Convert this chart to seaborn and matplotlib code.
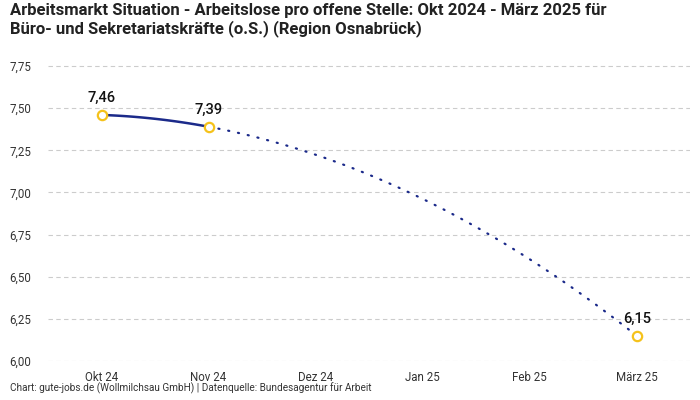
import numpy as np
import pandas as pd
import seaborn as sns
import matplotlib
matplotlib.use("Agg")
import matplotlib.pyplot as plt
from matplotlib.ticker import FuncFormatter

months = ["Okt 24", "Nov 24", "Dez 24", "Jan 25", "Feb 25", "März 25"]
known_months = ["Okt 24", "Nov 24", "März 25"]
known_values = [7.46, 7.39, 6.15]
y_ticks = [6.00, 6.25, 6.50, 6.75, 7.00, 7.25, 7.50, 7.75]

title = ("Arbeitsmarkt Situation - Arbeitslose pro offene Stelle: Okt 2024 - März 2025 für\n"
         "Büro- und Sekretariatskräfte (o.S.) (Region Osnabrück)")
footer = "Chart: gute-jobs.de (Wollmilchsau GmbH) | Datenquelle: Bundesagentur für Arbeit"

sns.set_theme(style="white")
plt.rcParams["font.family"] = ["Roboto", "DejaVu Sans"]

line_color = "#1b2a8a"
marker_color = "#f5c21b"

fig = plt.figure(figsize=(7, 4), dpi=100)
ax = fig.add_axes([0.0686, 0.0975, 0.9174, 0.75])

xpos = [months.index(m) for m in known_months]
df = pd.DataFrame({"x": xpos, "y": known_values, "month": known_months})

# smooth curve through the known points (rendering of the connecting line)
coef = np.polyfit(df["x"], df["y"], 2)
xs1 = np.linspace(xpos[0], xpos[1], 50)
xs2 = np.linspace(xpos[1], xpos[2], 200)
sns.lineplot(x=xs1, y=np.polyval(coef, xs1), ax=ax, color=line_color, lw=1.8)
ax.plot(xs2, np.polyval(coef, xs2), color=line_color, lw=1.6,
        linestyle=(0, (0.5, 4.0)), dash_capstyle="round")

sns.scatterplot(data=df, x="x", y="y", ax=ax, s=45, facecolor="white",
                edgecolor=marker_color, linewidth=1.6, zorder=5)

for xv, yv in zip(df["x"], df["y"]):
    ax.annotate(f"{yv:.2f}".replace(".", ","), (xv, yv), xytext=(0, 7),
                textcoords="offset points", ha="center", va="bottom",
                fontsize=10.5, fontweight="medium", color="#111111")

ax.set_xlim(-0.5, 5.5)
ax.set_ylim(6.0, 7.78)
ax.set_xticks(range(len(months)))
ax.set_xticklabels(months)
ax.set_yticks(y_ticks)
ax.yaxis.set_major_formatter(FuncFormatter(lambda v, p: f"{v:.2f}".replace(".", ",")))
ax.tick_params(axis="both", length=0, labelsize=8.3, labelcolor="#333333")
ax.tick_params(axis="y", pad=12)
ax.tick_params(axis="x", pad=7)
ax.set_xlabel("")
ax.set_ylabel("")
ax.grid(axis="y", color="#cccccc", linestyle=(0, (4, 3)), linewidth=0.8)
ax.grid(axis="x", visible=False)
for s in ax.spines.values():
    s.set_visible(False)

fig.text(0.014, 0.993, title, ha="left", va="top", fontsize=12, fontweight="bold",
         color="#222222", linespacing=1.2)
fig.text(0.014, 0.015, footer, ha="left", va="bottom", fontsize=7.2, color="#333333")

fig.savefig("out.png", dpi=100)
